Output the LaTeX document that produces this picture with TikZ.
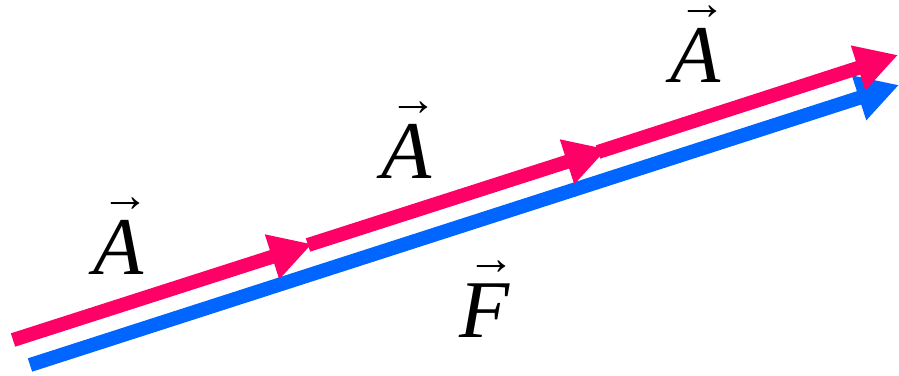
\documentclass[tikz,border=0pt]{standalone}
\usepackage{fontspec}
\setmainfont{Liberation Serif}
\usetikzlibrary{arrows.meta}
\definecolor{vecpink}{RGB}{255,0,102}
\definecolor{vecblue}{RGB}{0,102,255}
\newcommand\vecover[1]{#1\llap{\raisebox{63pt}{\fontsize{48}{48}\selectfont\upshape\bfseries →}\hspace{-5pt}}}
\begin{document}
\begin{tikzpicture}[x=1pt,y=1pt,
    vecline/.style={line width=14pt,-{Triangle[length=42pt,width=44pt]}},
    veclabel/.style={anchor=base,inner sep=0pt,font=\fontsize{82}{82}\selectfont\itshape}]
    \useasboundingbox (0,0) rectangle (899,375);
    % pink chain and blue sum
    \coordinate (a0) at (13,35);
    \coordinate (a1) at (312,131);
    \coordinate (a1s) at (308,130);
    \coordinate (a2) at (607,226);
    \coordinate (a2s) at (598,223);
    \coordinate (a3) at (898,320);
    \coordinate (f0) at (30,10);
    \coordinate (f1) at (899,290);
    \draw[vecline,vecblue] (f0) -- (f1);
    \draw[vecline,vecpink] (a0) -- (a1);
    \draw[vecline,vecpink] (a1s) -- (a2);
    \draw[vecline,vecpink] (a2s) -- (a3);
    \node[veclabel] (labA1) at (119,100) {\vecover{A}};
    \node[veclabel] (labA2) at (407,196) {\vecover{A}};
    \node[veclabel] (labA3) at (696,292) {\vecover{A}};
    \node[veclabel] (labF) at (485,38) {\vecover{F}};
\end{tikzpicture}
\end{document}
